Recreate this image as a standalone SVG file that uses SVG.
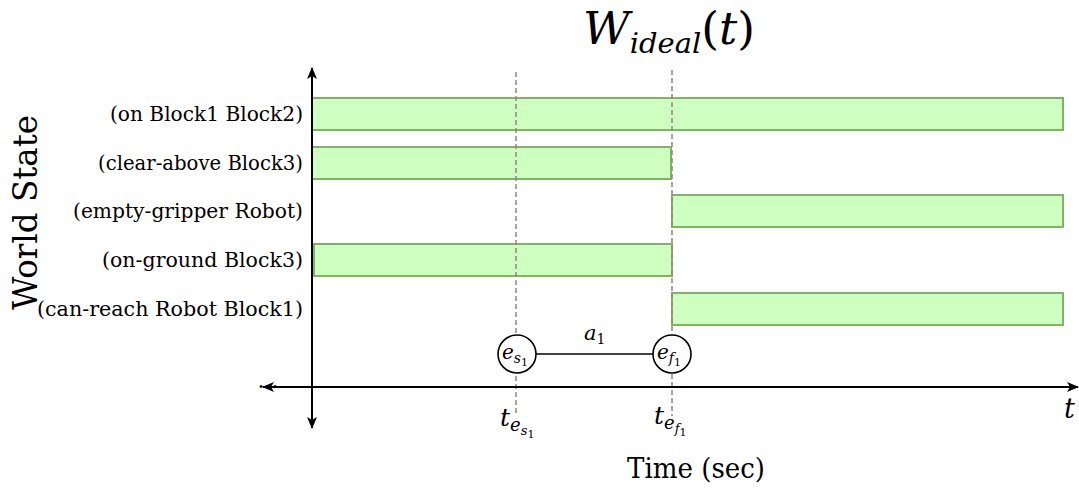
<svg xmlns="http://www.w3.org/2000/svg" width="1079" height="491" viewBox="0 0 1079 491">
<defs>
<style>
.lbl{font-family:"DejaVu Serif","Liberation Serif",serif;font-size:20px;fill:#000;text-anchor:end}
.bar{fill:#ccffc0;stroke:#80b366;stroke-width:2}
.dash{stroke:#a07f80;stroke-width:1.5;stroke-dasharray:5 3;fill:none}
.axis{stroke:#000;stroke-width:2;fill:none}
.m{font-family:"DejaVu Serif","Liberation Serif",serif;font-style:italic;fill:#000}
.r{font-family:"DejaVu Serif","Liberation Serif",serif;fill:#000}
.ev{fill:#fff;stroke:#000;stroke-width:1.6}
</style>
<marker id="ah" viewBox="0 0 12 10" refX="11" refY="5" markerWidth="12" markerHeight="10" markerUnits="userSpaceOnUse" orient="auto-start-reverse">
<path d="M0,0 L12,5 L0,10 L3,5 Z" fill="#000"/>
</marker>
</defs>
<rect width="1079" height="491" fill="#fff"/>

<g id="title"><text x="583" y="44" class="m" font-size="44" textLength="172" lengthAdjust="spacingAndGlyphs">W<tspan font-size="28" dy="9">ideal</tspan><tspan font-style="normal" dy="-9">(</tspan>t<tspan font-style="normal">)</tspan></text></g>

<g id="bars">
<rect id="bar1" class="bar" x="312" y="98" width="751" height="32"/>
<rect id="bar2" class="bar" x="312" y="147" width="359" height="32"/>
<rect id="bar3" class="bar" x="672" y="195" width="391" height="32"/>
<rect id="bar4" class="bar" x="314" y="244" width="358" height="32"/>
<rect id="bar5" class="bar" x="672" y="293" width="391" height="32"/>
</g>

<g id="labels">
<text class="lbl" x="303" y="121" textLength="193" lengthAdjust="spacingAndGlyphs">(on Block1 Block2)</text>
<text class="lbl" x="303" y="170" textLength="205" lengthAdjust="spacingAndGlyphs">(clear-above Block3)</text>
<text class="lbl" x="303" y="218" textLength="230" lengthAdjust="spacingAndGlyphs">(empty-gripper Robot)</text>
<text class="lbl" x="303" y="267" textLength="201" lengthAdjust="spacingAndGlyphs">(on-ground Block3)</text>
<text class="lbl" x="303" y="316" textLength="266" lengthAdjust="spacingAndGlyphs">(can-reach Robot Block1)</text>
<text class="r" x="268" y="388" font-size="22" text-anchor="middle">...</text>
</g>

<g id="connectors">
<line class="dash" x1="516" y1="72" x2="516" y2="416"/>
<line class="dash" x1="672" y1="70" x2="672" y2="416"/>
<line class="axis" x1="312" y1="428" x2="312" y2="68" marker-start="url(#ah)" marker-end="url(#ah)"/>
<line class="axis" x1="263" y1="387" x2="1078" y2="387" marker-start="url(#ah)" marker-end="url(#ah)"/>
<line x1="536" y1="354" x2="653" y2="354" stroke="#000" stroke-width="1.6"/>
</g>

<g id="es1">
<circle class="ev" cx="517" cy="354" r="19"/>
<text class="m" x="502" y="359" font-size="20">e<tspan font-size="14" dy="4">s</tspan><tspan font-style="normal" font-size="11" dy="3">1</tspan></text>
</g>
<g id="ef1">
<circle class="ev" cx="672" cy="354" r="19"/>
<text class="m" x="657" y="359" font-size="20">e<tspan font-size="14" dy="4">f</tspan><tspan font-style="normal" font-size="11" dy="3">1</tspan></text>
</g>

<g id="texts">
<text class="m" x="584" y="340" font-size="21">a<tspan font-style="normal" font-size="14" dy="4">1</tspan></text>
<text class="m" x="500" y="426" font-size="25">t<tspan font-size="18" dy="5">e</tspan><tspan font-size="13" dy="4">s</tspan><tspan font-style="normal" font-size="11" dy="3">1</tspan></text>
<text class="m" x="654" y="424" font-size="25">t<tspan font-size="18" dy="5">e</tspan><tspan font-size="13" dy="4">f</tspan><tspan font-style="normal" font-size="11" dy="3">1</tspan></text>
<text class="m" x="1064" y="418" font-size="27">t</text>
<text class="r" x="627" y="478" font-size="28" textLength="138" lengthAdjust="spacingAndGlyphs">Time (sec)</text>
<text class="r" transform="translate(37,310) rotate(-90)" font-size="34" textLength="195" lengthAdjust="spacingAndGlyphs">World State</text>
</g>
</svg>
